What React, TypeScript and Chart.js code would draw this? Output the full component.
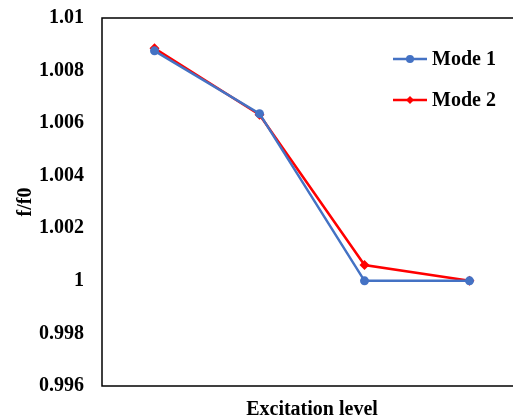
import React, { useEffect, useRef } from "react";
import { Chart, registerables } from "chart.js";

Chart.register(...registerables);

const categories = ["1", "2", "3", "4"];
const mode1 = [1.00875, 1.00636, 1.0, 1.0];
const mode2 = [1.00885, 1.00632, 1.0006, 1.0];
const yTicks = [0.996, 0.998, 1, 1.002, 1.004, 1.006, 1.008, 1.01];
const seriesNames = ["Mode 1", "Mode 2"];
const seriesColors = ["#4472C4", "#FF0000"];

const FONT = "'Liberation Serif', 'Times New Roman', serif";

const boxPlugin = {
  id: "boxPlugin",
  afterDraw(chart: any) {
    const { ctx, chartArea } = chart;
    ctx.save();
    ctx.strokeStyle = "#000";
    ctx.lineWidth = 1.5;
    ctx.strokeRect(chartArea.left, chartArea.top, chartArea.right - chartArea.left, chartArea.bottom - chartArea.top);
    // legend
    const items = chart.data.datasets;
    items.forEach((ds: any, i: number) => {
      const y = 59 + i * 41;
      const x0 = 393;
      const x1 = 427;
      ctx.strokeStyle = ds.borderColor;
      ctx.lineWidth = 2.5;
      ctx.beginPath();
      ctx.moveTo(x0, y);
      ctx.lineTo(x1, y);
      ctx.stroke();
      ctx.fillStyle = ds.borderColor;
      const cx = (x0 + x1) / 2;
      if (ds.pointStyle === "rectRot") {
        const r = 4;
        ctx.beginPath();
        ctx.moveTo(cx, y - r);
        ctx.lineTo(cx + r, y);
        ctx.lineTo(cx, y + r);
        ctx.lineTo(cx - r, y);
        ctx.closePath();
        ctx.fill();
      } else {
        ctx.beginPath();
        ctx.arc(cx, y, 4, 0, Math.PI * 2);
        ctx.fill();
      }
      ctx.fillStyle = "#000";
      ctx.font = `bold 20px ${FONT}`;
      ctx.textBaseline = "middle";
      ctx.textAlign = "left";
      ctx.fillText(ds.label, 432, y + 1);
    });
    ctx.restore();
  },
};

export default function App() {
  const ref = useRef<HTMLCanvasElement>(null);
  useEffect(() => {
    const chart = new Chart(ref.current!, {
      type: "line",
      data: {
        labels: categories,
        datasets: [
          {
            label: seriesNames[0],
            data: mode1,
            borderColor: seriesColors[0],
            backgroundColor: seriesColors[0],
            borderWidth: 2.5,
            pointRadius: 4.5,
            pointStyle: "circle",
            pointBorderWidth: 0,
          },
          {
            label: seriesNames[1],
            data: mode2,
            borderColor: seriesColors[1],
            backgroundColor: seriesColors[1],
            borderWidth: 2.5,
            pointRadius: 5,
            pointStyle: "rectRot",
            pointBorderWidth: 0,
          },
        ],
      },
      options: {
        animation: false,
        responsive: false,
        layout: { padding: { top: 18, right: 8, left: 0, bottom: 0 } },
        plugins: { legend: { display: false }, tooltip: { enabled: false } },
        scales: {
          x: {
            offset: true,
            grid: { display: false, drawTicks: false },
            border: { display: false },
            ticks: { display: false },
            title: {
              display: true,
              text: "Excitation level",
              color: "#000",
              font: { family: FONT, size: 20, weight: "bold" },
              padding: { top: 0, bottom: 2 },
            },
            afterFit(scale: any) {
              scale.height = 38;
            },
          },
          y: {
            min: 0.996,
            max: 1.01,
            grid: { display: false, drawTicks: false },
            border: { display: false },
            afterBuildTicks(scale: any) {
              scale.ticks = yTicks.map((v) => ({ value: v }));
            },
            ticks: {
              color: "#000",
              padding: 18,
              font: { family: FONT, size: 20, weight: "bold" },
              callback: (v: any) => String(Number(Number(v).toFixed(3))),
            },
            title: {
              display: true,
              text: "f/f0",
              color: "#000",
              font: { family: FONT, size: 20, weight: "bold" },
              padding: { top: 14, bottom: 0 },
            },
            afterFit(scale: any) {
              scale.width = 102;
              scale.paddingTop = 0;
              scale.paddingBottom = 0;
            },
          },
        },
      },
      plugins: [boxPlugin],
    });
    return () => chart.destroy();
  }, []);
  return (
    <div style={{ position: "fixed", left: 0, top: 0, width: 530, height: 418, overflow: "hidden", background: "#fff" }}>
      <canvas ref={ref} width={530} height={424} />
    </div>
  );
}
